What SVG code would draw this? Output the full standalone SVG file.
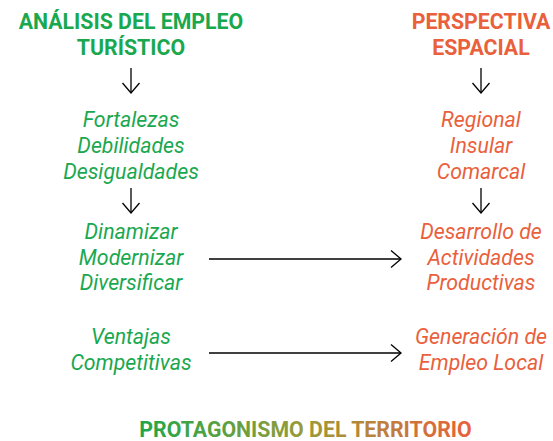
<svg xmlns="http://www.w3.org/2000/svg" width="553" height="441" viewBox="0 0 553 441">
<style>
.h{font-family:Roboto,"Liberation Sans",sans-serif;font-weight:bold;font-size:21.3px;text-anchor:middle}
.b{font-family:Roboto,"Liberation Sans",sans-serif;font-style:italic;font-size:21.3px;text-anchor:middle}
.g{fill:#1aa84f}
.o{fill:#ea5f3c}
.c{stroke:#000;stroke-width:1.3;fill:none}
</style>
<defs>
<marker id="ah" markerWidth="14" markerHeight="20" refX="11" refY="9.5" orient="auto" markerUnits="userSpaceOnUse">
<path d="M1,1 L11,9.5 L1,18" fill="none" stroke="#000" stroke-width="1.3"/>
</marker>
<linearGradient id="gr" x1="140" y1="0" x2="471" y2="0" gradientUnits="userSpaceOnUse">
<stop offset="0" stop-color="#1ea64a"/>
<stop offset="0.5" stop-color="#9a9a3a"/>
<stop offset="1" stop-color="#e8603c"/>
</linearGradient>
</defs>
<g id="n-analisis"><text class="h g" x="131" y="29">ANÁLISIS DEL EMPLEO</text><text class="h g" x="131" y="55">TURÍSTICO</text></g>
<g id="n-fortalezas"><text class="b g" x="131" y="127">Fortalezas</text><text class="b g" x="131" y="153">Debilidades</text><text class="b g" x="131" y="179">Desigualdades</text></g>
<g id="n-dinamizar"><text class="b g" x="131" y="239">Dinamizar</text><text class="b g" x="131" y="265">Modernizar</text><text class="b g" x="131" y="290">Diversificar</text></g>
<g id="n-ventajas"><text class="b g" x="131" y="344">Ventajas</text><text class="b g" x="131" y="370">Competitivas</text></g>
<g id="n-perspectiva"><text class="h o" x="481" y="29">PERSPECTIVA</text><text class="h o" x="481" y="55">ESPACIAL</text></g>
<g id="n-regional"><text class="b o" x="481" y="127">Regional</text><text class="b o" x="481" y="153">Insular</text><text class="b o" x="481" y="179">Comarcal</text></g>
<g id="n-desarrollo"><text class="b o" x="481" y="239">Desarrollo de</text><text class="b o" x="481" y="265">Actividades</text><text class="b o" x="481" y="290">Productivas</text></g>
<g id="n-generacion"><text class="b o" x="481" y="344">Generación de</text><text class="b o" x="481" y="370">Empleo Local</text></g>
<g id="n-protagonismo"><text x="305.5" y="437" font-family="Roboto,'Liberation Sans',sans-serif" font-weight="bold" font-size="21.3" text-anchor="middle" fill="url(#gr)">PROTAGONISMO DEL TERRITORIO</text></g>
<g id="connectors">
<line class="c" x1="131" y1="68" x2="131" y2="93" marker-end="url(#ah)"/>
<line class="c" x1="131" y1="188" x2="131" y2="213" marker-end="url(#ah)"/>
<line class="c" x1="481" y1="68" x2="481" y2="93" marker-end="url(#ah)"/>
<line class="c" x1="481" y1="188" x2="481" y2="213" marker-end="url(#ah)"/>
<line class="c" x1="209" y1="259" x2="401" y2="259" marker-end="url(#ah)"/>
<line class="c" x1="209" y1="353" x2="401" y2="353" marker-end="url(#ah)"/>
</g>
</svg>
